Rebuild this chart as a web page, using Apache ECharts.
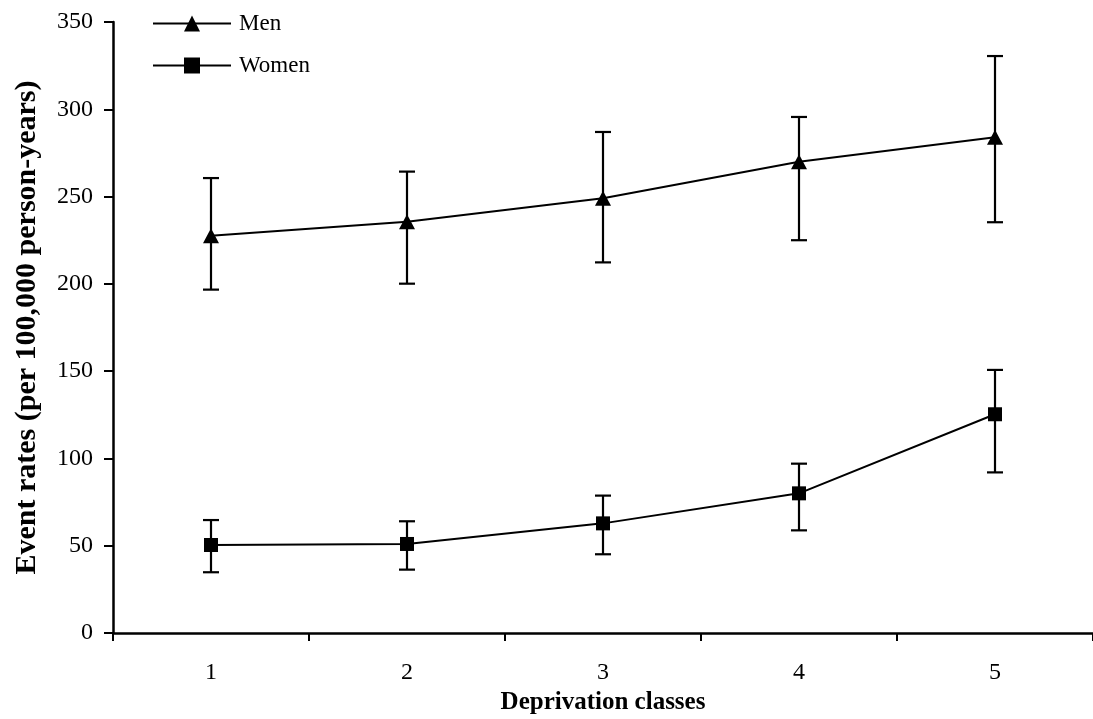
<!DOCTYPE html>
<html>
<head>
<meta charset="utf-8">
<script src="https://cdn.jsdelivr.net/npm/echarts@6/dist/echarts.min.js"></script>
<style>
html,body{margin:0;padding:0;background:#fff;}
#chart{width:1093px;height:719px;}
</style>
</head>
<body>
<div id="chart"></div>
<script>
var categories = ['1', '2', '3', '4', '5'];
var menRates = [227.6, 235.6, 249, 270, 284];
var menLow = [196.7, 200.1, 212.3, 225, 235.3];
var menHigh = [260.6, 264.3, 287, 295.6, 330.5];
var womenRates = [50.4, 51, 62.8, 80, 125.3];
var womenLow = [34.8, 36.3, 45.1, 58.8, 92];
var womenHigh = [64.7, 64, 78.7, 97, 150.7];

var FONT = "'Liberation Serif', 'Times New Roman', serif";

function errData(low, high) {
  return categories.map(function (c, i) { return [i, low[i], high[i]]; });
}

function renderErr(params, api) {
  var x = api.value(0);
  var lo = api.coord([x, api.value(1)]);
  var hi = api.coord([x, api.value(2)]);
  var hw = 8;
  var style = { stroke: '#000', lineWidth: 2.2, fill: null };
  return {
    type: 'group',
    children: [
      { type: 'line', shape: { x1: hi[0], y1: hi[1], x2: lo[0], y2: lo[1] }, style: style },
      { type: 'line', shape: { x1: hi[0] - hw, y1: hi[1], x2: hi[0] + hw, y2: hi[1] }, style: style },
      { type: 'line', shape: { x1: lo[0] - hw, y1: lo[1], x2: lo[0] + hw, y2: lo[1] }, style: style }
    ]
  };
}

var chart = echarts.init(document.getElementById('chart'), null, { renderer: 'canvas' });
chart.setOption({
  animation: false,
  backgroundColor: '#fff',
  grid: { left: 113, right: 0, top: 22, bottom: 86, containLabel: false, outerBoundsMode: 'none' },
  legend: {
    orient: 'vertical',
    left: 152,
    top: 12,
    padding: 0,
    itemWidth: 78,
    itemHeight: 20,
    itemGap: 19,
    textStyle: { fontFamily: FONT, fontSize: 23, color: '#000', lineHeight: 20, padding: [0, 0, 0, 3] },
    data: ['Men', 'Women']
  },
  xAxis: {
    type: 'category',
    data: categories,
    boundaryGap: true,
    name: 'Deprivation classes',
    nameLocation: 'middle',
    nameGap: 55,
    nameTextStyle: { fontFamily: FONT, fontSize: 25, fontWeight: 'bold', color: '#000' },
    axisLine: { show: true, lineStyle: { color: '#000', width: 2.5 } },
    axisTick: { show: true, inside: false, length: 8, interval: 0, lineStyle: { color: '#000', width: 2 } },
    axisLabel: { fontFamily: FONT, fontSize: 24, color: '#000', margin: 28 },
    splitLine: { show: false }
  },
  yAxis: {
    type: 'value',
    min: 0,
    max: 350,
    interval: 50,
    name: 'Event rates (per 100,000 person-years)',
    nameLocation: 'middle',
    nameGap: 71,
    nameTextStyle: { fontFamily: FONT, fontSize: 30, fontWeight: 'bold', color: '#000' },
    axisLine: { show: true, lineStyle: { color: '#000', width: 2.5 } },
    axisTick: { show: true, inside: false, length: 9, lineStyle: { color: '#000', width: 2 } },
    axisLabel: { fontFamily: FONT, fontSize: 24, color: '#000', margin: 20 },
    splitLine: { show: false }
  },
  series: [
    {
      name: 'Men',
      type: 'line',
      data: menRates,
      symbol: 'triangle',
      symbolSize: [16, 15],
      lineStyle: { color: '#000', width: 2 },
      itemStyle: { color: '#000' },
      z: 3
    },
    {
      name: 'Women',
      type: 'line',
      data: womenRates,
      symbol: 'rect',
      symbolSize: 14,
      lineStyle: { color: '#000', width: 2 },
      itemStyle: { color: '#000' },
      z: 3
    },
    {
      name: 'MenErr',
      type: 'custom',
      renderItem: renderErr,
      data: errData(menLow, menHigh),
      encode: { x: 0, y: [1, 2] },
      z: 2
    },
    {
      name: 'WomenErr',
      type: 'custom',
      renderItem: renderErr,
      data: errData(womenLow, womenHigh),
      encode: { x: 0, y: [1, 2] },
      z: 2
    }
  ]
});
</script>
</body>
</html>
